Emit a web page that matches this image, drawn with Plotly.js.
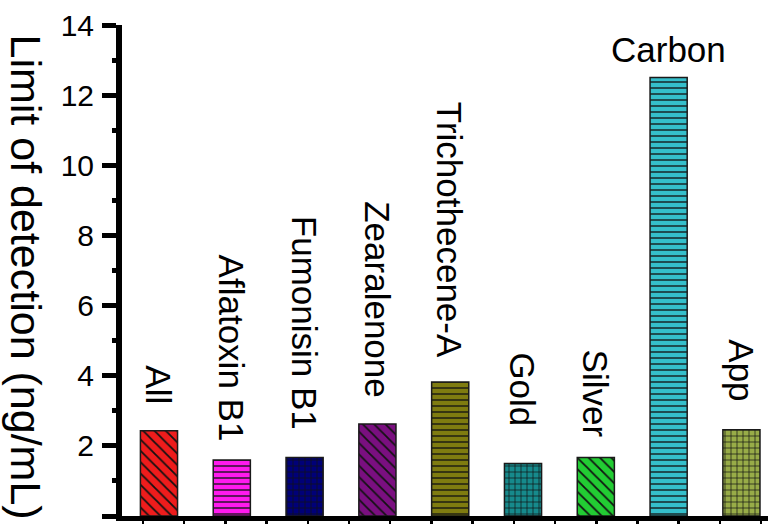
<!DOCTYPE html>
<html>
<head>
<meta charset="utf-8">
<script src="https://cdn.plot.ly/plotly-3.0.1.min.js"></script>
<style>html,body{margin:0;padding:0;background:#fff;}#chart{width:768px;height:524px;}</style>
</head>
<body>
<div id="chart"></div>
<script>
// ---- data ----
const categories = ['All', 'Aflatoxin B1', 'Fumonisin B1', 'Zearalenone', 'Trichothecene-A', 'Gold', 'Silver', 'Carbon', 'App'];
const lodValues = [2.43, 1.6, 1.67, 2.62, 3.82, 1.5, 1.67, 12.5, 2.46];
const yTickValues = [0, 2, 4, 6, 8, 10, 12, 14];
const yMinorTickValues = [1, 3, 5, 7, 9, 11, 13];
const yTitle = 'Limit of detection (ng/mL)';

// ---- styles ----
const barColors = ['#ee1c1c', '#ff1aee', '#000078', '#7a0f80', '#7f7c10', '#168a8c', '#22cc33', '#35bfcb', '#98ac48'];
const barShapes = ['\\', '-', '+', '\\', '-', '+', '\\', '-', '+'];
const barSizes = [8, 6, 6, 8, 6, 6, 8, 6, 6];
const labelAngles = [90, 90, 90, 90, 90, 90, 90, 0, 90];
const labelShifts = [25, 17, 27, 25, 23, 36, 19, 8, 27];

const FONT = 'Liberation Sans, Arial, sans-serif';
const xs = categories.map((_, i) => i);

const traces = categories.map((c, i) => ({
  type: 'bar',
  name: c,
  x: [xs[i]],
  y: [lodValues[i]],
  width: 0.51,
  marker: {
    color: barColors[i],
    line: {color: '#1a1a1a', width: 1.5},
    pattern: {shape: barShapes[i], size: barSizes[i], solidity: 0.22,
              fgcolor: '#111111', bgcolor: barColors[i], fgopacity: 1, fillmode: 'replace'}
  },
  hoverinfo: 'x+y',
  showlegend: false
}));
// empty trace so the minor-tick overlay axis is drawn
traces.push({type: 'scatter', x: [], y: [], yaxis: 'y2', showlegend: false, hoverinfo: 'skip'});

const annotations = categories.map((c, i) => ({
  x: xs[i], y: lodValues[i], xref: 'x', yref: 'y',
  text: c, showarrow: false, textangle: labelAngles[i],
  xanchor: 'center', yanchor: 'bottom', yshift: labelShifts[i], borderpad: 0,
  font: {family: FONT, size: 35, color: '#000'}
}));
annotations.push({
  x: -0.148, y: 0.487, xref: 'paper', yref: 'paper',
  text: yTitle, showarrow: false, textangle: 90,
  xanchor: 'center', yanchor: 'middle', borderpad: 0,
  font: {family: FONT, size: 43, color: '#000'}
});

const layout = {
  width: 768, height: 524,
  margin: {l: 122, r: 0, t: 25, b: 8, pad: 0},
  paper_bgcolor: '#fff', plot_bgcolor: '#fff',
  font: {family: FONT, color: '#000'},
  showlegend: false,
  barmode: 'overlay',
  xaxis: {
    range: [-0.508, 8.365],
    showgrid: false, zeroline: false,
    showline: true, linecolor: '#000', linewidth: 5,
    ticks: 'outside', ticklen: 5, tickwidth: 2.5, tickcolor: '#000',
    tick0: -0.22, dtick: 0.566,
    showticklabels: false
  },
  yaxis: {
    range: [0, 14],
    showgrid: false, zeroline: false,
    showline: true, linecolor: '#000', linewidth: 6,
    tickvals: yTickValues,
    ticks: 'outside', ticklen: 14, tickwidth: 5, tickcolor: '#000',
    tickfont: {family: FONT, size: 30, color: '#000'},
    ticklabelstandoff: 2
  },
  yaxis2: {
    overlaying: 'y', side: 'left',
    range: [0, 14],
    showgrid: false, zeroline: false, showline: false,
    tickvals: yMinorTickValues,
    ticks: 'outside', ticklen: 9, tickwidth: 5, tickcolor: '#000',
    showticklabels: false
  },
  annotations: annotations
};

Plotly.newPlot('chart', traces, layout, {displayModeBar: false, staticPlot: true});
</script>
</body>
</html>
